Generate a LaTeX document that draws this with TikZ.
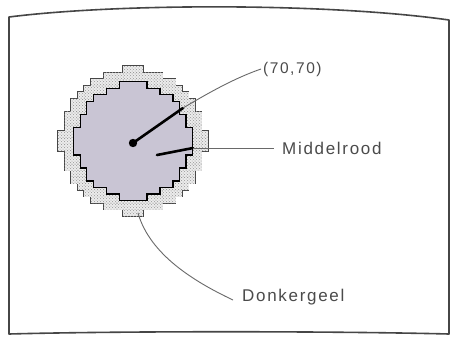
\documentclass[tikz,border=0pt]{standalone}
\usepackage{fontspec}
\setmainfont{Liberation Sans}
\newfontfamily\lblfont[LetterSpace=10]{Liberation Sans}
\usetikzlibrary{patterns}
\definecolor{lav}{RGB}{201,197,212}
\definecolor{stip}{RGB}{236,236,236}
\definecolor{framec}{RGB}{70,70,70}
\definecolor{leadc}{RGB}{105,105,105}
\definecolor{textc}{RGB}{75,75,75}
% pixel disk: #1 cx, #2 cy, #3 cell size, #4 radius (cells), #5 grid offset, #6 expansion, #7 fill options
\newcommand{\pixdisk}[7]{%
  \foreach \i in {-13,...,13}{%
    \foreach \j in {-13,...,13}{%
      \pgfmathsetmacro\uu{\i+#5}%
      \pgfmathsetmacro\vv{\j+#5}%
      \pgfmathtruncatemacro\ins{((\uu*\uu+\vv*\vv)<=(#4*#4))?1:0}%
      \ifnum\ins=1
        \fill[#7] ({#1+\uu*#3-#3/2-#6},{#2+\vv*#3-#3/2-#6}) rectangle ++({#3+2*#6},{#3+2*#6});
      \fi
    }%
  }%
}
\tikzset{
  frameline/.style={draw=framec,line width=1.6pt,line join=round},
  leader/.style={draw=leadc,line width=0.9pt},
  thickleader/.style={draw=black,line width=2.6pt,line cap=round},
  lbl/.style={text=textc,inner sep=0pt,anchor=west,font=\lblfont\fontsize{17}{20}\selectfont},
  lblsmall/.style={text=textc,inner sep=0pt,anchor=west,font=\lblfont\fontsize{15.5}{18}\selectfont}
}
\begin{document}
\begin{tikzpicture}[x=1pt,y=-1pt]
\useasboundingbox (0,0) rectangle (450,341);
\fill[white] (0,0) rectangle (450,341);
% screen frame
\draw[frameline] (9,17) .. controls (120,3) and (330,3) .. (449,20) -- (449,334)
  .. controls (330,331) and (120,331) .. (9,334) -- cycle;
% outer stippled band
\pixdisk{133}{141}{6.5}{11.09}{0}{0.8}{framec}
\pixdisk{133}{141}{6.5}{11.09}{0}{0.25}{stip}
\pixdisk{133}{141}{6.5}{11.09}{0}{0.25}{pattern=crosshatch dots,pattern color=gray!80}
% inner disk
\pixdisk{133}{141}{6.5}{8.72}{0.5}{1.5}{black}
\pixdisk{133}{141}{6.5}{8.72}{0.5}{0.25}{lav}
% labels
\node[lblsmall] (coord) at (263,69) {(70,70)};
\node[lbl] (mid) at (282,148) {Middelrood};
\node[lbl] (donk) at (242,297) {Donkergeel};
% points
\coordinate (dot) at (133,143);
\coordinate (bendA) at (183,108);
\coordinate (midIn) at (157,155);
\coordinate (bendB) at (193,148);
\coordinate (rimC) at (138,213);
% connectors
\draw[thickleader] (dot) -- (bendA);
\draw[leader] (bendA) .. controls (210,92) and (235,78) .. ([xshift=-2pt]coord.west);
\draw[thickleader] (midIn) -- (bendB);
\draw[leader] (bendB) -- ([xshift=-8pt]mid.west);
\draw[leader] (rimC) .. controls (150,255) and (195,282) .. ([xshift=-9pt,yshift=-3pt]donk.west);
\fill[black] (dot) circle (4.2);
\end{tikzpicture}
\end{document}
